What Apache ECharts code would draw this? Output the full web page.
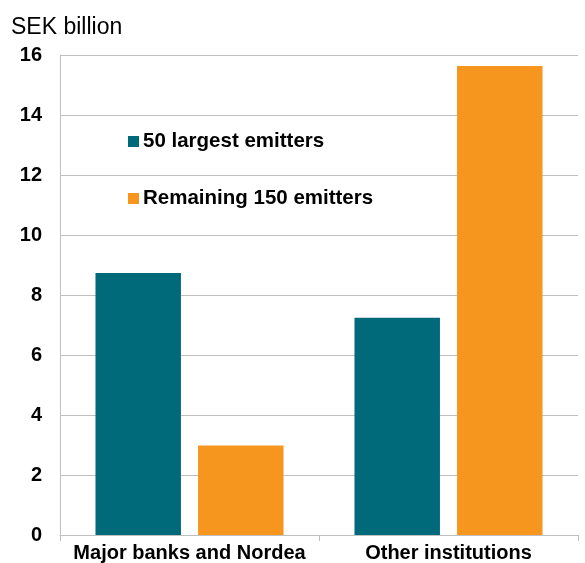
<!DOCTYPE html>
<html><head><meta charset="utf-8">
<script src="https://cdn.jsdelivr.net/npm/echarts@6/dist/echarts.min.js"></script>
<style>html,body{margin:0;padding:0;background:#fff}#c{width:585px;height:563px}</style>
</head><body><div id="c"></div>
<script>
const categories = ["Major banks and Nordea", "Other institutions"];
const largest50 = [8.73, 7.24];
const remaining150 = [2.98, 15.63];
const seriesNames = ["50 largest emitters", "Remaining 150 emitters"];
const yTicks = [0, 2, 4, 6, 8, 10, 12, 14, 16];

const chart = echarts.init(document.getElementById('c'), null, {renderer: 'canvas'});
chart.setOption({
  animation: false,
  textStyle: {fontFamily: 'Liberation Sans, Arial, sans-serif'},
  graphic: [{type: 'text', left: 11, top: 16, style: {text: 'SEK billion', font: '23px Liberation Sans, Arial, sans-serif', fill: '#000'}}],
  grid: {left: 60, right: 7, top: 55, bottom: 27, containLabel: false},
  legend: {
    orient: 'vertical', left: 128, top: 131, padding: 0, itemGap: 36, itemWidth: 11, itemHeight: 11,
    icon: 'rect', data: seriesNames,
    textStyle: {fontSize: 20.5, fontWeight: 'bold', color: '#000', lineHeight: 20, padding: [0, 0, 0, -1]}
  },
  xAxis: {
    type: 'category', data: categories,
    axisLine: {lineStyle: {color: '#BFBFBF', width: 1}},
    axisTick: {show: true, length: 6, lineStyle: {color: '#BFBFBF'}},
    axisLabel: {fontSize: 20, fontWeight: 'bold', color: '#000', margin: 8, interval: 0, hideOverlap: false}
  },
  yAxis: {
    type: 'value', min: yTicks[0], max: yTicks[yTicks.length - 1], interval: 2,
    axisLine: {show: true, lineStyle: {color: '#BFBFBF'}},
    axisTick: {show: false},
    splitLine: {lineStyle: {color: '#BFBFBF', width: 1}},
    axisLabel: {fontSize: 20, fontWeight: 'bold', color: '#000', margin: 18}
  },
  series: [
    {name: seriesNames[0], type: 'bar', data: largest50, barWidth: '33%', barGap: '20%', itemStyle: {color: '#006A7A'}},
    {name: seriesNames[1], type: 'bar', data: remaining150, barWidth: '33%', barGap: '20%', itemStyle: {color: '#F7961F'}}
  ]
});
</script></body></html>
